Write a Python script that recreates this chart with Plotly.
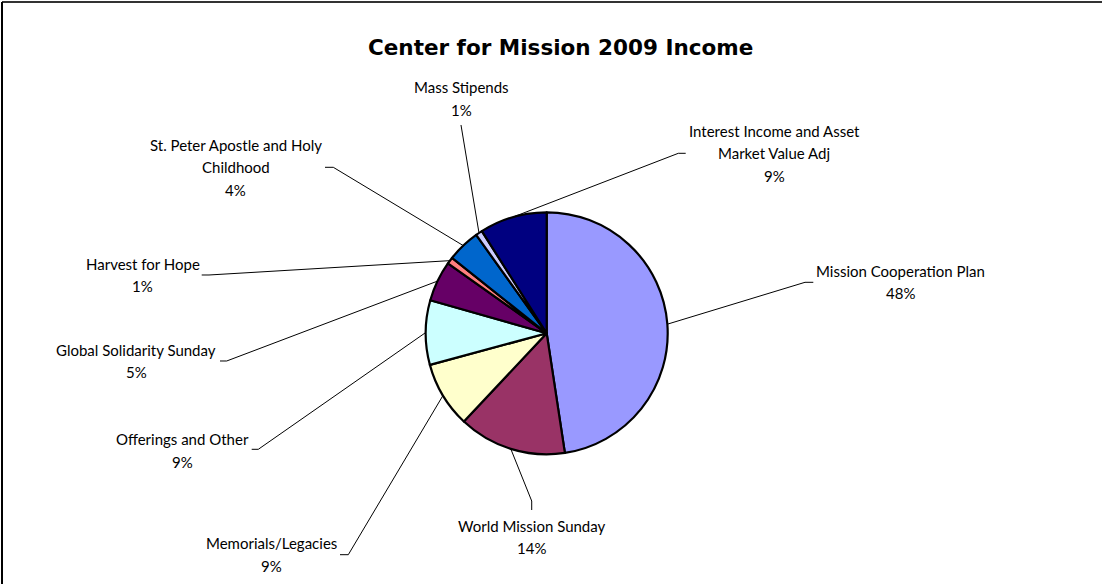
import math
import plotly.graph_objects as go

# ---- data ----
categories = [
    "Mission Cooperation Plan",
    "World Mission Sunday",
    "Memorials/Legacies",
    "Offerings and Other",
    "Global Solidarity Sunday",
    "Harvest for Hope",
    "St. Peter Apostle and Holy Childhood",
    "Mass Stipends",
    "Interest Income and Asset Market Value Adj",
]
values = [47.6, 14.4, 8.8, 8.6, 5.4, 0.9, 4.4, 0.9, 9.0]
colors = ["#9999FF", "#993366", "#FFFFCC", "#CCFFFF", "#660066",
          "#FF8080", "#0066CC", "#CCCCFF", "#000080"]
label_lines = {
    "St. Peter Apostle and Holy Childhood": ["St. Peter Apostle and Holy", "Childhood"],
    "Interest Income and Asset Market Value Adj": ["Interest Income and Asset", "Market Value Adj"],
}
title_text = "Center for Mission 2009 Income"

# ---- layout (pixels) ----
W, H = 1102, 584
CX, CY, R = 546.7, 333.3, 121.0
# label block: centre x, first line y
label_pos = [(900, 271), (531.7, 525.7), (271.5, 543.3), (182.5, 439.3),
             (136, 350), (142.5, 264), (235.8, 145), (461.2, 87.3), (774.3, 131)]
# leader-line points at the label end (label side first)
leader_ends = [
    [(813.3, 282.3), (805, 282.3)],
    [(531.7, 510), (531.7, 501)],
    [(340, 554.7), (348.3, 554.7)],
    [(251.7, 449.3), (258.3, 449.3)],
    [(220, 361), (226.7, 361)],
    [(201.7, 275), (209, 275)],
    [(325, 167.3), (333.3, 167.3)],
    [(461, 125)],
    [(685.7, 153.3), (678.3, 153.3)],
]
LINE_GAP = 22.4
FONT = "Lato, 'Liberation Sans', sans-serif"


def px(x):
    return x / W


def py(y):
    return 1 - y / H


fig = go.Figure()
fig.add_trace(go.Pie(
    labels=categories,
    values=values,
    sort=False,
    direction="clockwise",
    rotation=0,
    marker=dict(colors=colors, line=dict(color="black", width=2.2)),
    textinfo="none",
    hoverinfo="label+percent",
    showlegend=False,
    domain=dict(x=[(CX - R) / W, (CX + R) / W], y=[1 - (CY + R) / H, 1 - (CY - R) / H]),
))

total = sum(values)
shapes = []
annotations = []
cum = 0.0
for i, (cat, v) in enumerate(zip(categories, values)):
    mid = (cum + v / 2) / total * 2 * math.pi
    cum += v
    ex = CX + R * math.sin(mid)
    ey = CY - R * math.cos(mid)
    pts = leader_ends[i] + [(ex, ey)]
    path = "M " + " L ".join(f"{px(a):.5f},{py(b):.5f}" for a, b in pts)
    shapes.append(dict(type="path", path=path, xref="paper", yref="paper",
                       line=dict(color="black", width=1)))
    lines = label_lines.get(cat, [cat]) + [f"{round(v / total * 100)}%"]
    lx, ly = label_pos[i]
    for k, t in enumerate(lines):
        annotations.append(dict(
            text=t, x=px(lx), y=py(ly + k * LINE_GAP), xref="paper", yref="paper",
            xanchor="center", yanchor="middle", showarrow=False,
            font=dict(family=FONT, size=15, color="black")))

# title
annotations.append(dict(
    text=f"<b>{title_text}</b>", x=px(560), y=py(47), xref="paper", yref="paper",
    xanchor="center", yanchor="middle", showarrow=False,
    font=dict(family="'DejaVu Sans', sans-serif", size=21.5, color="black")))

# chart frame (top and left edges visible)
shapes.append(dict(type="line", xref="paper", yref="paper",
                   x0=px(2), x1=1, y0=py(2), y1=py(2), line=dict(color="#333333", width=2)))
shapes.append(dict(type="line", xref="paper", yref="paper",
                   x0=px(2), x1=px(2), y0=py(2), y1=0, line=dict(color="black", width=2)))

fig.update_layout(
    width=W, height=H, autosize=False,
    margin=dict(l=0, r=0, t=0, b=0),
    paper_bgcolor="white", plot_bgcolor="white",
    shapes=shapes, annotations=annotations,
)

fig.write_html(
    "out.html",
    config={"displayModeBar": False},
    post_script="document.body.style.margin='0';document.body.style.padding='0';"
                "document.documentElement.style.overflow='hidden';document.body.style.overflow='hidden';",
)
